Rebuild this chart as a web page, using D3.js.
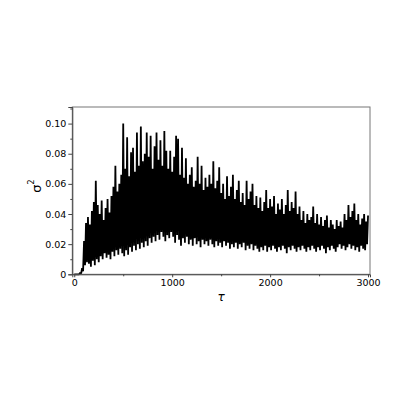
<!DOCTYPE html>
<html>
<head>
<meta charset="utf-8">
<script src="https://cdn.jsdelivr.net/npm/d3@7"></script>
<style>
  body { margin: 0; background: #fff; }
  text { font-family: "DejaVu Sans", sans-serif; }
</style>
</head>
<body>
<div id="chart"></div>
<script>
// sigma^2 vs tau, dense oscillating series
// peaks sit at tau = 0, 20, 40 ... 3000, troughs at tau = 10, 30 ... 2990

const peaks = [
  0, 0, 0, 0.001, 0.004, 0.022, 0.034, 0.038, 0.033, 0.042,
  0.048, 0.062, 0.046, 0.040, 0.049, 0.036, 0.044, 0.050, 0.041, 0.052,
  0.058, 0.072, 0.055, 0.060, 0.066, 0.100, 0.070, 0.091, 0.065, 0.081,
  0.084, 0.068, 0.094, 0.072, 0.098, 0.075, 0.080, 0.094, 0.078, 0.092,
  0.070, 0.085, 0.094, 0.076, 0.089, 0.072, 0.095, 0.082, 0.070, 0.082,
  0.068, 0.078, 0.092, 0.090, 0.066, 0.084, 0.064, 0.077, 0.060, 0.066,
  0.071, 0.058, 0.062, 0.078, 0.060, 0.072, 0.056, 0.064, 0.058, 0.066,
  0.060, 0.075, 0.057, 0.062, 0.071, 0.054, 0.060, 0.050, 0.065, 0.052,
  0.058, 0.066, 0.050, 0.056, 0.062, 0.048, 0.054, 0.046, 0.062, 0.050,
  0.055, 0.060, 0.046, 0.052, 0.044, 0.051, 0.042, 0.048, 0.056, 0.044,
  0.050, 0.045, 0.052, 0.040, 0.047, 0.043, 0.050, 0.040, 0.046, 0.056,
  0.042, 0.048, 0.044, 0.055, 0.040, 0.045, 0.036, 0.042, 0.034, 0.040,
  0.036, 0.038, 0.045, 0.034, 0.040, 0.033, 0.038, 0.032, 0.036, 0.039,
  0.031, 0.036, 0.033, 0.030, 0.036, 0.032, 0.035, 0.031, 0.040, 0.036,
  0.046, 0.038, 0.042, 0.047, 0.036, 0.040, 0.033, 0.037, 0.040, 0.035,
  0.039
];

const troughs = [
  0, 0, 0, 0.0005, 0.002, 0.006, 0.008, 0.007, 0.005, 0.009,
  0.006, 0.010, 0.008, 0.012, 0.010, 0.014, 0.011, 0.013, 0.010, 0.015,
  0.012, 0.016, 0.013, 0.017, 0.014, 0.012, 0.016, 0.013, 0.018, 0.015,
  0.019, 0.016, 0.020, 0.017, 0.021, 0.018, 0.022, 0.019, 0.024, 0.021,
  0.025, 0.022, 0.026, 0.023, 0.028, 0.025, 0.022, 0.026, 0.024, 0.028,
  0.025, 0.021, 0.026, 0.023, 0.019, 0.024, 0.021, 0.025, 0.020, 0.023,
  0.019, 0.024, 0.020, 0.022, 0.018, 0.023, 0.020, 0.022, 0.019, 0.023,
  0.020, 0.018, 0.022, 0.019, 0.021, 0.018, 0.022, 0.019, 0.021, 0.017,
  0.020, 0.018, 0.021, 0.017, 0.020, 0.018, 0.021, 0.016, 0.019, 0.017,
  0.020, 0.016, 0.019, 0.017, 0.015, 0.018, 0.016, 0.019, 0.015, 0.018,
  0.016, 0.019, 0.017, 0.015, 0.018, 0.016, 0.019, 0.017, 0.014, 0.018,
  0.016, 0.019, 0.017, 0.015, 0.018, 0.016, 0.019, 0.017, 0.015, 0.018,
  0.016, 0.019, 0.017, 0.015, 0.018, 0.016, 0.019, 0.017, 0.014, 0.018,
  0.016, 0.019, 0.017, 0.015, 0.018, 0.020, 0.017, 0.019, 0.016, 0.018,
  0.020, 0.017, 0.019, 0.016, 0.018, 0.015, 0.019, 0.017, 0.016, 0.020
];

const xTicks = [0, 1000, 2000, 3000];
const xMinorTicks = [500, 1500, 2500];
const yTicks = [0, 0.02, 0.04, 0.06, 0.08, 0.1];
const yTickLabels = ["0", "0.02", "0.04", "0.06", "0.08", "0.10"];
const yMinorTicks = [0.01, 0.03, 0.05, 0.07, 0.09, 0.11];

// interleave peaks and troughs into one series
const series = [];
peaks.forEach((p, i) => {
  series.push({ tau: i * 20, v: p });
  if (i < troughs.length) series.push({ tau: i * 20 + 10, v: troughs[i] });
});

const W = 409, H = 409;
const plot = { left: 72.3, right: 370, top: 107, bottom: 274.3 };

const svg = d3.select("#chart")
  .append("svg")
  .attr("width", W)
  .attr("height", H);

const x = d3.scaleLinear().domain([-20, 3020]).range([plot.left, plot.right]);
const y = d3.scaleLinear().domain([0, 0.111]).range([plot.bottom, plot.top]);

// data line, thick enough that the oscillation reads as a solid band
const line = d3.line().x((d) => x(d.tau)).y((d) => y(d.v));

svg.append("path")
  .datum(series)
  .attr("fill", "none")
  .attr("stroke", "#000")
  .attr("stroke-width", 1.8)
  .attr("stroke-linejoin", "bevel")
  .attr("d", line);

// frame
svg.append("rect")
  .attr("x", plot.left)
  .attr("y", plot.top)
  .attr("width", plot.right - plot.left)
  .attr("height", plot.bottom - plot.top)
  .attr("fill", "none")
  .attr("stroke", "#777")
  .attr("stroke-width", 1);

// axes
svg.append("g")
  .attr("transform", `translate(0,${plot.bottom})`)
  .call(d3.axisBottom(x).tickValues(xTicks).tickSize(3).tickPadding(2).tickFormat(d3.format("d")));

svg.append("g")
  .attr("transform", `translate(0,${plot.bottom})`)
  .call(d3.axisBottom(x).tickValues(xMinorTicks).tickSize(2).tickFormat(""))
  .call((g) => g.select(".domain").remove());

svg.append("g")
  .attr("transform", `translate(${plot.left},0)`)
  .call(d3.axisLeft(y).tickValues(yTicks).tickSize(4).tickPadding(2)
    .tickFormat((d, i) => yTickLabels[i]));

svg.append("g")
  .attr("transform", `translate(${plot.left},0)`)
  .call(d3.axisLeft(y).tickValues(yMinorTicks).tickSize(2).tickFormat(""))
  .call((g) => g.select(".domain").remove());

svg.selectAll(".domain").attr("stroke", "#444");
svg.selectAll(".tick line").attr("stroke", "#444");
svg.selectAll(".tick text")
  .attr("font-family", "DejaVu Sans, sans-serif")
  .attr("font-size", 9.5)
  .attr("fill", "#000");

// axis titles
svg.append("text")
  .attr("x", x(1500))
  .attr("y", 301)
  .attr("text-anchor", "middle")
  .attr("font-size", 12)
  .attr("font-style", "italic")
  .text("τ");

const yTitle = svg.append("text")
  .attr("transform", "translate(41,186) rotate(-90)")
  .attr("text-anchor", "middle")
  .attr("font-size", 13);
yTitle.append("tspan").text("σ");
yTitle.append("tspan").attr("dy", -7).attr("font-size", 8).text("2");
</script>
</body>
</html>
